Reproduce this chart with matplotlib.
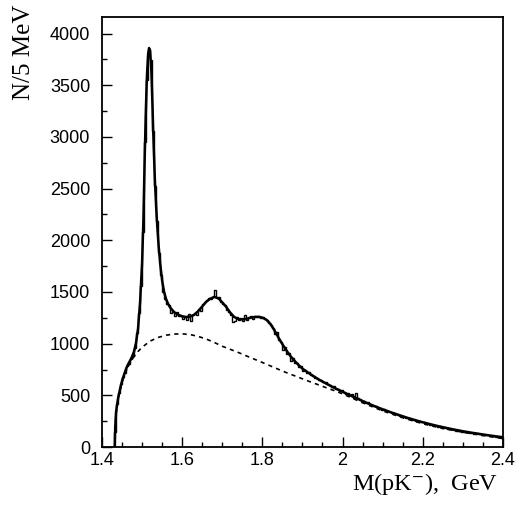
import numpy as np
import matplotlib
matplotlib.use("Agg")
import matplotlib.pyplot as plt
from matplotlib.ticker import MultipleLocator, FormatStrFormatter

plt.rcParams['font.family'] = ['Liberation Sans', 'DejaVu Sans']
plt.rcParams['mathtext.fontset'] = 'stix'

# histogram: N per 5 MeV, bins start at 1.430 GeV
bin_start = 1.430
bin_width = 0.005
counts = [
    150, 420, 520, 610, 680, 720, 780, 805, 850, 880,
    960, 1100, 1300, 1560, 2080, 2950, 3550, 3855, 3740, 3060,
    2530, 2190, 1880, 1660, 1500, 1430, 1380, 1370, 1300, 1320,
    1270, 1310, 1265, 1270, 1240, 1260, 1230, 1290, 1215, 1275,
    1300, 1280, 1340, 1320, 1380, 1400, 1420, 1440, 1430, 1450,
    1520, 1440, 1450, 1400, 1380, 1370, 1330, 1310, 1280, 1210,
    1220, 1260, 1230, 1250, 1215, 1280, 1230, 1260, 1265, 1240,
    1270, 1255, 1265, 1250, 1260, 1235, 1225, 1200, 1180, 1150,
    1095, 1110, 1040, 1015, 940, 965, 900, 905, 830, 860,
    810, 815, 770, 780, 740, 750, 720, 730, 700, 690,
    670, 670, 645, 650, 625, 625, 610, 600, 580, 590,
    565, 560, 545, 550, 530, 510, 520, 500, 510, 470,
    525, 470, 465, 450, 445, 430, 435, 420, 405, 400,
    395, 380, 375, 355, 365, 345, 345, 335, 330, 325,
    320, 310, 300, 305, 290, 285, 280, 270, 265, 260,
    255, 248, 240, 240, 238, 225, 222, 215, 212, 205,
    205, 190, 200, 185, 190, 180, 178, 170, 175, 165,
    160, 162, 155, 150, 150, 142, 145, 138, 135, 130,
    132, 125, 122, 120, 118, 112, 115, 108, 105, 103,
    100, 98, 95, 92,
]

# full fit
fit_mass = [1.432, 1.433, 1.435, 1.440, 1.445, 1.450, 1.455, 1.460, 1.465, 1.470,
            1.475, 1.480, 1.485, 1.490, 1.495, 1.500, 1.503, 1.506, 1.509, 1.512,
            1.515, 1.5175, 1.520, 1.523, 1.526, 1.529, 1.532, 1.535, 1.538, 1.541,
            1.545, 1.550, 1.555, 1.560, 1.565, 1.570, 1.580, 1.590, 1.600, 1.610,
            1.620, 1.630, 1.640, 1.650, 1.660, 1.670, 1.680, 1.690, 1.700, 1.710,
            1.720, 1.730, 1.740, 1.750, 1.760, 1.770, 1.780, 1.790, 1.800, 1.810,
            1.820, 1.830, 1.840, 1.850, 1.860, 1.870, 1.880, 1.890, 1.900, 1.920,
            1.940, 1.960, 1.980, 2.000, 2.020, 2.040, 2.060, 2.080, 2.100, 2.120,
            2.140, 2.160, 2.180, 2.200, 2.220, 2.240, 2.260, 2.280, 2.300, 2.320,
            2.340, 2.360, 2.380, 2.400]
fit_counts = [0, 190, 335, 470, 560, 640, 700, 755, 800, 835,
              875, 925, 1010, 1150, 1400, 1780, 2150, 2700, 3200, 3580,
              3800, 3860, 3830, 3650, 3300, 2900, 2580, 2330, 2130, 1960,
              1780, 1610, 1500, 1430, 1385, 1350, 1305, 1280, 1265, 1258,
              1262, 1280, 1315, 1360, 1405, 1435, 1452, 1440, 1400, 1355,
              1300, 1258, 1238, 1235, 1240, 1250, 1258, 1260, 1252, 1232,
              1192, 1130, 1060, 995, 935, 880, 835, 795, 758, 705,
              655, 612, 572, 535, 498, 462, 428, 395, 365, 337,
              311, 285, 262, 240, 220, 201, 184, 168, 153, 140,
              128, 116, 105, 95]

# background
bg_mass = [1.432, 1.433, 1.435, 1.440, 1.450, 1.460, 1.470, 1.480, 1.490, 1.500,
           1.520, 1.540, 1.560, 1.580, 1.600, 1.620, 1.640, 1.660, 1.680, 1.700,
           1.720, 1.740, 1.760, 1.780, 1.800, 1.820, 1.840, 1.860, 1.880, 1.900,
           1.920, 1.940, 1.960, 1.980, 2.000, 2.050, 2.100, 2.150, 2.200, 2.250,
           2.300, 2.350, 2.400]
bg_counts = [0, 180, 320, 460, 625, 735, 815, 875, 925, 965,
             1025, 1060, 1082, 1093, 1095, 1088, 1070, 1045, 1012, 975,
             945, 915, 882, 850, 818, 785, 752, 720, 690, 660,
             630, 602, 573, 545, 515, 428, 350, 283, 226, 180,
             143, 112, 82]

edges = bin_start + bin_width * np.arange(len(counts) + 1)

fig = plt.figure(figsize=(5.19, 5.08), dpi=100)
ax = fig.add_axes([0.1965, 0.120, 0.7725, 0.8465])

ax.stairs(counts, edges, color='black', linewidth=1.0)
ax.plot(fit_mass, fit_counts, color='black', linewidth=1.8)
ax.plot(bg_mass, bg_counts, color='black', linewidth=1.2, linestyle=(0, (2.5, 2.5)))

ax.set_xlim(1.4, 2.4)
ax.set_ylim(0, 4160)
ax.xaxis.set_major_locator(MultipleLocator(0.2))
ax.xaxis.set_minor_locator(MultipleLocator(0.05))
ax.yaxis.set_major_locator(MultipleLocator(500))
ax.yaxis.set_minor_locator(MultipleLocator(250))
ax.xaxis.set_major_formatter(FormatStrFormatter('%g'))
ax.tick_params(which='both', direction='in', top=False, right=False, width=1.0, labelsize=13)
ax.tick_params(which='major', length=7)
ax.tick_params(which='minor', length=3.5)
ax.tick_params(axis='y', pad=8.5)
ax.tick_params(axis='x', pad=3.5)
for s in ax.spines.values():
    s.set_linewidth(1.3)

fig.canvas.draw()
ax.get_yticklabels()[0].set_va('bottom')

fig.text(0.960, 0.022, r'M(pK$^{\mathsf{-}}$),  GeV', family='Liberation Serif', fontsize=17.5,
         ha='right', va='bottom')
fig.text(0.046, 0.99, 'N/5 MeV', family='Liberation Serif', fontsize=18,
         rotation=90, ha='center', va='top')

fig.savefig('out.png', dpi=100)
